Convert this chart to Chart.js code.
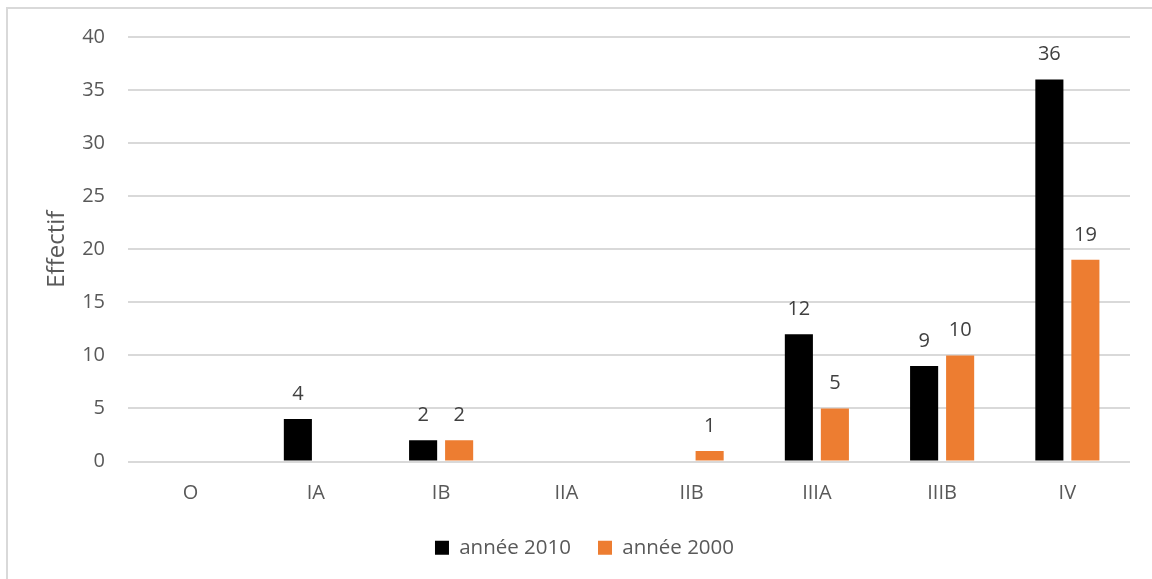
<!DOCTYPE html>
<html>
<head>
<meta charset="utf-8">
<script src="https://cdn.jsdelivr.net/npm/chart.js@4/dist/chart.umd.min.js"></script>
<style>
    html, body { margin: 0; padding: 0; background: #fff; }
    #wrap { position: relative; width: 1152px; height: 579px; overflow: hidden; }
    #frame { position: absolute; left: 6px; top: 7px; width: 1200px; height: 650px; border-left: 2px solid #d9d9d9; border-top: 2px solid #d9d9d9; }
    #chart { position: absolute; left: 0; top: 0; }
</style>
</head>
<body>
<div id="wrap">
    <div id="frame"></div>
    <canvas id="chart" width="1152" height="579"></canvas>
</div>
<script>
var categories = ['O', 'IA', 'IB', 'IIA', 'IIB', 'IIIA', 'IIIB', 'IV'];
var values2010 = [0, 4, 2, 0, 0, 12, 9, 36];
var values2000 = [0, 0, 2, 0, 1, 5, 10, 19];
var yTicks = [0, 5, 10, 15, 20, 25, 30, 35, 40];

var fontFamily = '"Open Sans", "Liberation Sans", sans-serif';

// draws the value above each non-zero bar
var valueLabels = {
    id: 'valueLabels',
    afterDatasetsDraw: function (chart) {
        var ctx = chart.ctx;
        ctx.save();
        ctx.fillStyle = '#404040';
        ctx.font = '20px ' + fontFamily;
        ctx.textAlign = 'center';
        ctx.textBaseline = 'middle';
        chart.data.datasets.forEach(function (ds, i) {
            var meta = chart.getDatasetMeta(i);
            meta.data.forEach(function (bar, j) {
                var v = ds.data[j];
                if (!v) return;
                ctx.fillText(String(v), bar.x, bar.y - 25);
            });
        });
        ctx.restore();
    }
};

new Chart(document.getElementById('chart'), {
    type: 'bar',
    data: {
        labels: categories,
        datasets: [{
            label: 'année 2010',
            data: values2010,
            backgroundColor: '#000000',
            categoryPercentage: 0.575,
            barPercentage: 0.78
        }, {
            label: 'année 2000',
            data: values2000,
            backgroundColor: '#ed7d31',
            categoryPercentage: 0.575,
            barPercentage: 0.78
        }]
    },
    options: {
        responsive: false,
        animation: false,
        layout: {
            padding: { left: 39, right: 22, top: 37, bottom: 11 }
        },
        plugins: {
            tooltip: { enabled: false },
            legend: {
                display: true,
                position: 'bottom',
                labels: {
                    boxWidth: 14,
                    boxHeight: 14,
                    padding: 27,
                    color: '#595959',
                    font: { family: fontFamily, size: 20.5 }
                }
            }
        },
        scales: {
            x: {
                grid: { display: false, drawTicks: false },
                border: { display: false },
                ticks: {
                    padding: 20,
                    color: '#595959',
                    font: { family: fontFamily, size: 20 }
                },
                afterFit: function (scale) { scale.height = 49; }
            },
            y: {
                min: 0,
                max: 40,
                afterBuildTicks: function (scale) {
                    scale.ticks = yTicks.map(function (v) { return { value: v }; });
                },
                grid: { color: '#d9d9d9', lineWidth: 2, drawTicks: false },
                border: { display: false },
                ticks: {
                    padding: 23,
                    color: '#595959',
                    font: { family: fontFamily, size: 20 }
                },
                title: {
                    display: true,
                    text: 'Effectif',
                    color: '#595959',
                    font: { family: fontFamily, size: 24 }
                },
                afterFit: function (scale) { scale.width = 89; }
            }
        }
    },
    plugins: [valueLabels]
});
</script>
</body>
</html>
